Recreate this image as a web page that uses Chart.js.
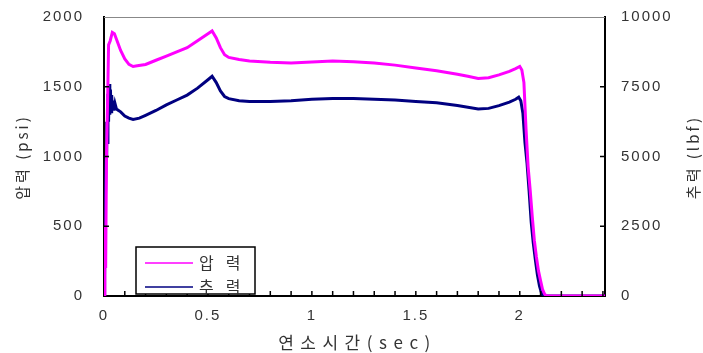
<!DOCTYPE html>
<html>
<head>
<meta charset="utf-8">
<script src="https://cdn.jsdelivr.net/npm/chart.js@4.4.1/dist/chart.umd.min.js"></script>
<style>
  html, body { margin: 0; padding: 0; background: #fff; }
  #wrap { width: 703px; height: 353px; }
</style>
</head>
<body>
<div id="wrap"><canvas id="chart" width="703" height="353"></canvas></div>
<script>
// 연소시간(sec) vs 압력(psi) / 추력(lbf)
const pressureTime = [0, 0.004, 0.008, 0.012, 0.018, 0.022, 0.03, 0.04, 0.05, 0.06, 0.08, 0.1, 0.12, 0.14, 0.16, 0.2, 0.25, 0.3, 0.35, 0.4, 0.45, 0.5, 0.52, 0.54, 0.56, 0.58, 0.6, 0.65, 0.7, 0.8, 0.9, 1.0, 1.1, 1.2, 1.3, 1.4, 1.5, 1.6, 1.7, 1.75, 1.8, 1.85, 1.9, 1.95, 1.98, 2.0, 2.01, 2.02, 2.03, 2.04, 2.05, 2.06, 2.07, 2.08, 2.09, 2.1, 2.11, 2.12, 2.13, 2.41];
const pressurePsi = [0, 500, 200, 1000, 1450, 1800, 1830, 1890, 1880, 1840, 1760, 1700, 1660, 1645, 1650, 1660, 1690, 1720, 1750, 1780, 1830, 1880, 1900, 1850, 1780, 1730, 1710, 1695, 1685, 1675, 1670, 1678, 1685, 1680, 1670, 1655, 1635, 1615, 1590, 1575, 1560, 1565, 1585, 1610, 1630, 1645, 1620, 1530, 1200, 930, 760, 570, 400, 280, 180, 110, 45, 12, 0, 0];

const thrustTime = [0, 0.003, 0.006, 0.01, 0.013, 0.016, 0.019, 0.022, 0.025, 0.028, 0.031, 0.034, 0.037, 0.04, 0.044, 0.048, 0.053, 0.06, 0.07, 0.08, 0.1, 0.12, 0.14, 0.17, 0.2, 0.25, 0.3, 0.35, 0.4, 0.45, 0.5, 0.52, 0.54, 0.56, 0.58, 0.6, 0.65, 0.7, 0.8, 0.9, 1.0, 1.1, 1.2, 1.3, 1.4, 1.5, 1.6, 1.7, 1.8, 1.85, 1.9, 1.95, 1.98, 1.995, 2.005, 2.015, 2.025, 2.035, 2.045, 2.055, 2.065, 2.075, 2.085, 2.095, 2.105, 2.115, 2.41];
const thrustLbf = [0, 750, 3000, 5000, 6250, 5500, 7250, 6250, 7600, 6500, 7400, 6600, 7200, 6650, 7000, 6650, 6900, 6700, 6650, 6600, 6450, 6375, 6325, 6375, 6475, 6650, 6850, 7025, 7200, 7450, 7750, 7875, 7650, 7350, 7150, 7075, 7000, 6975, 6975, 7000, 7050, 7075, 7075, 7050, 7025, 6975, 6925, 6825, 6700, 6725, 6825, 6950, 7050, 7125, 7000, 6550, 5500, 4750, 3750, 2650, 1900, 1300, 750, 350, 100, 0, 0];

const xLabelValues = [0, 0.5, 1, 1.5, 2];
const pressureTicks = [0, 500, 1000, 1500, 2000];
const thrustTicks = [0, 2500, 5000, 7500, 10000];

const seriesLabels = ['압력', '추력'];
const seriesColors = ['#ff00ff', '#000080'];

const TEXT_COLOR = '#333';
const NUM_FONT = "'Liberation Sans', Arial, sans-serif";
const KR_FONT = "'Noto Sans CJK KR', sans-serif";

const toPoints = (xs, ys) => xs.map((x, i) => ({ x, y: ys[i] }));

// 축 라벨이 차트 영역을 밀어내지 않도록
const noPad = s => { s.paddingTop = 0; s.paddingBottom = 0; s.paddingLeft = 0; s.paddingRight = 0; };

// 글자 간격 (캔버스 리사이즈 시 초기화되므로 매번 설정)
const spacingPlugin = {
    id: 'spacing',
    beforeUpdate(chart) { chart.ctx.letterSpacing = '2px'; },
    beforeDraw(chart) { chart.ctx.letterSpacing = '2px'; }
};

// 안쪽 눈금, 윗 테두리, 축 제목, 범례
const decorPlugin = {
    id: 'decor',
    afterDatasetsDraw(chart) {
        const { ctx, chartArea: a, scales } = chart;
        ctx.save();
        ctx.strokeStyle = '#000';
        ctx.lineWidth = 1.5;
        ctx.beginPath();
        for (let i = 1; i < 25; i++) {
            const px = scales.x.getPixelForValue(i / 10);
            ctx.moveTo(px, a.bottom);
            ctx.lineTo(px, a.bottom - 5);
        }
        pressureTicks.slice(1, -1).forEach(v => {
            const py = scales.y.getPixelForValue(v);
            ctx.moveTo(a.left, py);
            ctx.lineTo(a.left + 5, py);
        });
        thrustTicks.slice(1, -1).forEach(v => {
            const py = scales.y1.getPixelForValue(v);
            ctx.moveTo(a.right, py);
            ctx.lineTo(a.right - 5, py);
        });
        ctx.stroke();

        // 윗 테두리
        ctx.strokeStyle = '#888';
        ctx.lineWidth = 1;
        ctx.beginPath();
        ctx.moveTo(a.left, a.top + 0.5);
        ctx.lineTo(a.right, a.top + 0.5);
        ctx.stroke();

        // 범례
        const bx = a.left + 32, by = a.bottom - 49, bw = 119, bh = 47;
        ctx.fillStyle = '#fff';
        ctx.fillRect(bx, by, bw, bh);
        ctx.strokeStyle = '#000';
        ctx.lineWidth = 1.5;
        ctx.strokeRect(bx, by, bw, bh);
        ctx.font = `16px ${KR_FONT}`;
        ctx.textBaseline = 'middle';
        ctx.textAlign = 'left';
        ctx.letterSpacing = '12px';
        seriesLabels.forEach((label, i) => {
            const ly = by + 16 + i * 24;
            ctx.strokeStyle = seriesColors[i];
            ctx.lineWidth = 1.5;
            ctx.beginPath();
            ctx.moveTo(bx + 9, ly);
            ctx.lineTo(bx + 57, ly);
            ctx.stroke();
            ctx.fillStyle = TEXT_COLOR;
            ctx.fillText(label, bx + 63, ly);
        });

        // 축 제목
        ctx.fillStyle = TEXT_COLOR;
        ctx.textAlign = 'center';
        ctx.font = `15px ${KR_FONT}`;
        ctx.letterSpacing = '3px';
        ctx.save();
        ctx.translate(22, 157);
        ctx.rotate(-Math.PI / 2);
        ctx.fillText('압력 (psi)', 0, 0);
        ctx.restore();
        ctx.save();
        ctx.translate(693, 157);
        ctx.rotate(-Math.PI / 2);
        ctx.fillText('추력 (lbf)', 0, 0);
        ctx.restore();
        ctx.font = `17px ${KR_FONT}`;
        ctx.letterSpacing = '6.5px';
        ctx.fillText('연소시간(sec)', (a.left + a.right) / 2 + 3, 343);
        ctx.restore();
    }
};

new Chart(document.getElementById('chart'), {
    type: 'line',
    data: {
        datasets: [
            {
                label: seriesLabels[0],
                data: toPoints(pressureTime, pressurePsi),
                yAxisID: 'y',
                borderColor: seriesColors[0],
                borderWidth: 3,
                pointRadius: 0,
                tension: 0
            },
            {
                label: seriesLabels[1],
                data: toPoints(thrustTime, thrustLbf),
                yAxisID: 'y1',
                borderColor: seriesColors[1],
                borderWidth: 3,
                pointRadius: 0,
                tension: 0
            }
        ]
    },
    options: {
        responsive: false,
        animation: false,
        layout: { padding: { top: 17, left: 0, right: 0, bottom: 0 } },
        plugins: {
            legend: { display: false },
            tooltip: { enabled: false }
        },
        scales: {
            x: {
                type: 'linear',
                min: 0,
                max: 2.41,
                afterBuildTicks: s => { s.ticks = xLabelValues.map(v => ({ value: v })); },
                afterFit: s => { s.height = 57; noPad(s); },
                grid: { display: false },
                border: { display: true, color: '#000', width: 2 },
                ticks: {
                    autoSkip: false,
                    maxRotation: 0,
                    padding: 3,
                    color: TEXT_COLOR,
                    font: { family: NUM_FONT, size: 15 },
                    callback: v => String(v)
                }
            },
            y: {
                position: 'left',
                min: 0,
                max: 2000,
                afterBuildTicks: s => { s.ticks = pressureTicks.map(v => ({ value: v })); },
                afterFit: s => { s.width = 104; noPad(s); },
                grid: { display: false },
                border: { display: true, color: '#000', width: 2 },
                ticks: {
                    padding: 12,
                    color: TEXT_COLOR,
                    font: { family: NUM_FONT, size: 15 },
                    callback: v => String(v)
                }
            },
            y1: {
                position: 'right',
                min: 0,
                max: 10000,
                afterBuildTicks: s => { s.ticks = thrustTicks.map(v => ({ value: v })); },
                afterFit: s => { s.width = 98; noPad(s); },
                grid: { display: false },
                border: { display: true, color: '#000', width: 2 },
                ticks: {
                    padding: 8,
                    color: TEXT_COLOR,
                    font: { family: NUM_FONT, size: 15 },
                    callback: v => String(v)
                }
            }
        }
    },
    plugins: [spacingPlugin, decorPlugin]
});
</script>
</body>
</html>
